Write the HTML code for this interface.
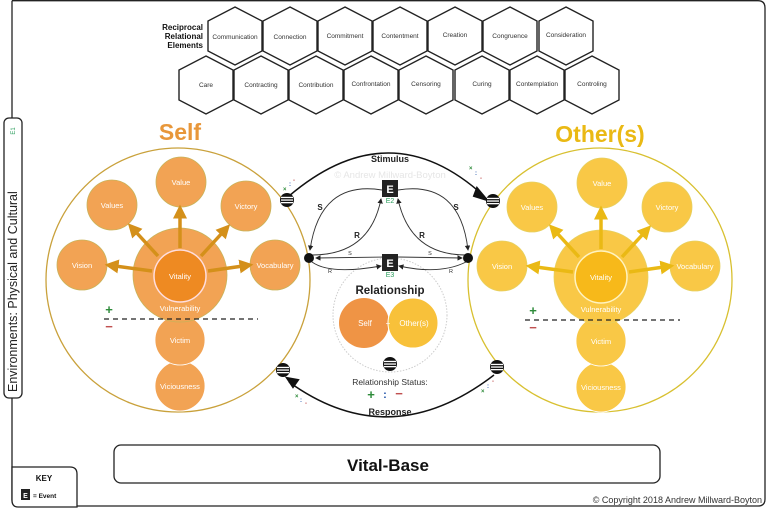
<!DOCTYPE html>
<html><head><meta charset="utf-8"><style>
html,body{margin:0;padding:0;background:#fff}
svg{display:block;font-family:"Liberation Sans",sans-serif}
</style></head><body>
<svg width="768" height="509" viewBox="0 0 768 509" xmlns="http://www.w3.org/2000/svg">
<defs>
<marker id="ah" markerWidth="6" markerHeight="6" refX="5" refY="3" orient="auto"><path d="M0,0 L6,3 L0,6 z" fill="#222"/></marker>
<marker id="ga" markerWidth="4" markerHeight="4" refX="1" refY="2" orient="auto"><path d="M0,0 L4,2 L0,4 z" fill="#d4901a"/></marker>
<marker id="ya" markerWidth="4" markerHeight="4" refX="1" refY="2" orient="auto"><path d="M0,0 L4,2 L0,4 z" fill="#eab914"/></marker>
<g id="badge"><circle r="7" fill="#111"/><rect x="-6" y="-3.2" width="12" height="1.3" fill="#fff"/><rect x="-6" y="-0.6" width="12" height="1.3" fill="#fff"/><rect x="-6" y="2" width="12" height="1.3" fill="#fff"/></g>
</defs>
<!-- frame -->
<g fill="none" stroke="#222" stroke-width="1.3">
<path d="M12,0.7 L758,0.7 Q765,0.7 765,8 L765,499 Q765,506 758,506 L18,506 Q12,506 12,500 L12,398"/>
<path d="M12,0.7 L12,118"/>
</g>
<!-- environments -->
<rect x="4" y="118" width="18" height="280" rx="5" fill="#fff" stroke="#222" stroke-width="1.3"/>
<text transform="translate(17,392) rotate(-90)" font-size="12.5" fill="#222">Environments: Physical and Cultural</text>
<text transform="translate(15,131) rotate(-90)" font-size="6" fill="#2a9d5c" text-anchor="middle">E1</text>
<g font-weight="bold" font-size="8" fill="#111" text-anchor="end">
<text x="203" y="30">Reciprocal</text>
<text x="203" y="39">Relational</text>
<text x="203" y="48">Elements</text>
</g>
<g fill="#fff" stroke="#222" stroke-width="1.4">
<polygon points="235,7 262,21 262,51 235,65 208,51 208,21"/>
<polygon points="290,7 317,21 317,51 290,65 263,51 263,21"/>
<polygon points="345,7 372,21 372,51 345,65 318,51 318,21"/>
<polygon points="400,7 427,21 427,51 400,65 373,51 373,21"/>
<polygon points="455,7 482,21 482,51 455,65 428,51 428,21"/>
<polygon points="510,7 537,21 537,51 510,65 483,51 483,21"/>
<polygon points="566,7 593,21 593,51 566,65 539,51 539,21"/>
<polygon points="206,56 233,70 233,100 206,114 179,100 179,70"/>
<polygon points="261,56 288,70 288,100 261,114 234,100 234,70"/>
<polygon points="316,56 343,70 343,100 316,114 289,100 289,70"/>
<polygon points="371,56 398,70 398,100 371,114 344,100 344,70"/>
<polygon points="426,56 453,70 453,100 426,114 399,100 399,70"/>
<polygon points="482,56 509,70 509,100 482,114 455,100 455,70"/>
<polygon points="537,56 564,70 564,100 537,114 510,100 510,70"/>
<polygon points="592,56 619,70 619,100 592,114 565,100 565,70"/>
</g>
<g font-size="6.5" fill="#333" text-anchor="middle">
<text x="235" y="39">Communication</text><text x="290" y="39">Connection</text><text x="345" y="38">Commitment</text><text x="400" y="38">Contentment</text><text x="455" y="37">Creation</text><text x="510" y="38">Congruence</text><text x="566" y="37">Consideration</text>
<text x="206" y="87">Care</text><text x="261" y="87">Contracting</text><text x="316" y="87">Contribution</text><text x="371" y="86">Confrontation</text><text x="426" y="86">Censoring</text><text x="482" y="86">Curing</text><text x="537" y="86">Contemplation</text><text x="592" y="86">Controling</text>
</g>
<!-- SELF -->
<text x="180" y="140" font-size="23" font-weight="bold" fill="#e8973a" text-anchor="middle">Self</text>
<circle cx="178" cy="280" r="132" fill="#fff" stroke="#c9a13b" stroke-width="1.3"/>
<g fill="#f2a354" stroke="#c8b35a" stroke-width="0.8">
<circle cx="181" cy="182" r="25"/><circle cx="112" cy="205" r="25"/><circle cx="246" cy="206" r="25"/>
<circle cx="82" cy="265" r="25"/><circle cx="275" cy="265" r="25"/>
<circle cx="180" cy="386" r="25" stroke="#fff"/><circle cx="180" cy="340" r="25" stroke="#fff"/>
<circle cx="180" cy="275" r="47"/>
</g>
<circle cx="180" cy="276" r="26" fill="#ee8a22" stroke="#fdd" stroke-width="1.5"/>
<g stroke="#d4901a" stroke-width="3.5" marker-end="url(#ga)">
<line x1="180" y1="248" x2="180" y2="215"/><line x1="158" y1="256" x2="135" y2="231"/><line x1="201" y1="256" x2="223" y2="232"/>
<line x1="152" y1="271" x2="115" y2="266"/><line x1="208" y1="271" x2="243" y2="266"/>
</g>
<g font-size="7.5" fill="#fff" text-anchor="middle">
<text x="181" y="185">Value</text><text x="112" y="208">Values</text><text x="246" y="209">Victory</text><text x="82" y="268">Vision</text><text x="275" y="268">Vocabulary</text>
<text x="180" y="279">Vitality</text><text x="180" y="311">Vulnerability</text><text x="180" y="343">Victim</text><text x="180" y="389">Viciousness</text>
</g>
<line x1="104" y1="319" x2="258" y2="319" stroke="#222" stroke-width="1.2" stroke-dasharray="5,4"/>
<text x="109" y="314" font-size="13" font-weight="bold" fill="#2e8b3a" text-anchor="middle">+</text>
<text x="109" y="331" font-size="13" font-weight="bold" fill="#c05050" text-anchor="middle">−</text>
<!-- OTHER -->
<text x="600" y="142" font-size="23" font-weight="bold" fill="#eab914" text-anchor="middle">Other(s)</text>
<circle cx="600" cy="280" r="132" fill="#fff" stroke="#d8c030" stroke-width="1.3"/>
<g fill="#f9c846" stroke="#e6d060" stroke-width="0.8">
<circle cx="602" cy="183" r="25"/><circle cx="532" cy="207" r="25"/><circle cx="667" cy="207" r="25"/>
<circle cx="502" cy="266" r="25"/><circle cx="695" cy="266" r="25"/>
<circle cx="601" cy="387" r="25" stroke="#fff"/><circle cx="601" cy="341" r="25" stroke="#fff"/>
<circle cx="601" cy="277" r="47"/>
</g>
<circle cx="601" cy="277" r="26" fill="#f7b91a" stroke="#fff3c0" stroke-width="1.5"/>
<g stroke="#eab914" stroke-width="3.5" marker-end="url(#ya)">
<line x1="601" y1="249" x2="601" y2="216"/><line x1="579" y1="257" x2="556" y2="232"/><line x1="622" y1="257" x2="644" y2="233"/>
<line x1="573" y1="272" x2="536" y2="267"/><line x1="629" y1="272" x2="664" y2="267"/>
</g>
<g font-size="7.5" fill="#fff" text-anchor="middle">
<text x="602" y="186">Value</text><text x="532" y="210">Values</text><text x="667" y="210">Victory</text><text x="502" y="269">Vision</text><text x="695" y="269">Vocabulary</text>
<text x="601" y="280">Vitality</text><text x="601" y="312">Vulnerability</text><text x="601" y="344">Victim</text><text x="601" y="390">Viciousness</text>
</g>
<line x1="525" y1="320" x2="680" y2="320" stroke="#222" stroke-width="1.2" stroke-dasharray="5,4"/>
<text x="533" y="315" font-size="13" font-weight="bold" fill="#2e8b3a" text-anchor="middle">+</text>
<text x="533" y="332" font-size="13" font-weight="bold" fill="#c05050" text-anchor="middle">−</text>
<!-- centre -->
<circle cx="390" cy="315" r="57" fill="none" stroke="#ccc" stroke-width="1" stroke-dasharray="1.5,1.5"/>
<path d="M289,196 Q390,110 484,196" fill="none" stroke="#111" stroke-width="1.5"/>
<path d="M477,188 L487,200 L474,196 Z" fill="#111" stroke="#111" stroke-width="2"/>
<text x="390" y="162" font-size="9" font-weight="bold" fill="#222" text-anchor="middle">Stimulus</text>
<text x="390" y="178" font-size="9.5" fill="#e6e6e6" text-anchor="middle">© Andrew Millward-Boyton</text>
<path d="M289,382 Q390,455 494,375" fill="none" stroke="#111" stroke-width="1.5"/>
<path d="M287,378 L298,380 L293,387 Z" fill="#111" stroke="#111" stroke-width="2"/>
<text x="390" y="415" font-size="9" font-weight="bold" fill="#222" text-anchor="middle">Response</text>
<g fill="none" stroke="#333" stroke-width="0.9" marker-end="url(#ah)">
<path d="M382,190 Q320,180 310,250"/><path d="M312,255 Q370,255 381,199"/>
<path d="M398,190 Q460,180 468,250"/><path d="M466,255 Q410,255 398,199"/>
<path d="M383,257 L316,258"/><path d="M312,262 Q330,275 381,266"/>
<path d="M398,257 L462,258"/><path d="M466,262 Q440,275 399,266"/>
</g>
<g font-size="8" font-weight="bold" fill="#222" text-anchor="middle">
<text x="320" y="210">S</text><text x="456" y="210">S</text><text x="357" y="238">R</text><text x="422" y="238">R</text>
</g>
<g font-size="5.5" fill="#333" text-anchor="middle"><text x="350" y="255">S</text><text x="430" y="255">S</text><text x="330" y="273">R</text><text x="451" y="273">R</text></g>
<circle cx="309" cy="258" r="5" fill="#111"/><circle cx="468" cy="258" r="5" fill="#111"/>
<rect x="382" y="180" width="16" height="17" fill="#222"/><text x="390" y="193" font-size="11" font-weight="bold" fill="#fff" text-anchor="middle">E</text>
<text x="390" y="203" font-size="7" fill="#2a9d5c" text-anchor="middle">E2</text>
<rect x="382" y="254" width="16" height="17" fill="#222"/><text x="390" y="267" font-size="11" font-weight="bold" fill="#fff" text-anchor="middle">E</text>
<text x="390" y="277" font-size="7" fill="#2a9d5c" text-anchor="middle">E3</text>
<text x="390" y="294" font-size="11.5" font-weight="bold" fill="#222" text-anchor="middle">Relationship</text>
<circle cx="364" cy="323" r="25" fill="#ef9445"/>
<circle cx="413" cy="323" r="25" fill="#f8c13a" stroke="#fff" stroke-width="1"/>
<text x="365" y="326" font-size="8" fill="#fff" text-anchor="middle">Self</text>
<text x="388" y="326" font-size="8" fill="#fff" text-anchor="middle">+</text>
<text x="414" y="326" font-size="8" fill="#fff" text-anchor="middle">Other(s)</text>
<text x="390" y="385" font-size="8.5" fill="#333" text-anchor="middle">Relationship Status:</text>
<text x="371" y="399" font-size="13" font-weight="bold" fill="#2e8b3a" text-anchor="middle">+</text>
<text x="385" y="398" font-size="11" font-weight="bold" fill="#2255aa" text-anchor="middle">:</text>
<text x="399" y="398" font-size="13" font-weight="bold" fill="#c05050" text-anchor="middle">−</text>
<g font-size="6" font-weight="bold">
<text x="283" y="191" fill="#2e8b3a">×</text><text x="289" y="186" fill="#2255aa">:</text><text x="293" y="182" fill="#c05050">-</text>
<text x="469" y="170" fill="#2e8b3a">×</text><text x="475" y="175" fill="#2255aa">:</text><text x="480" y="180" fill="#c05050">-</text>
<text x="295" y="398" fill="#2e8b3a">×</text><text x="300" y="402" fill="#2255aa">:</text><text x="305" y="405" fill="#c05050">-</text>
<text x="481" y="393" fill="#2e8b3a">×</text><text x="487" y="388" fill="#2255aa">:</text><text x="492" y="383" fill="#c05050">-</text>
</g>
<use href="#badge" x="287" y="200"/><use href="#badge" x="493" y="201"/>
<use href="#badge" x="283" y="370"/><use href="#badge" x="497" y="367"/><use href="#badge" x="390" y="364"/>
<!-- bottom -->
<rect x="114" y="445" width="546" height="38" rx="7" fill="#fff" stroke="#222" stroke-width="1.3"/>
<text x="388" y="471" font-size="17" font-weight="bold" fill="#111" text-anchor="middle">Vital-Base</text>
<path d="M12,467 L70,467 Q77,467 77,474 L77,507 L18,507 Q12,507 12,500 Z" fill="#fff" stroke="#222" stroke-width="1.3"/>
<text x="44" y="481" font-size="8" font-weight="bold" fill="#111" text-anchor="middle">KEY</text>
<rect x="21" y="489" width="9" height="11" fill="#222"/><text x="25.5" y="498" font-size="7" font-weight="bold" fill="#fff" text-anchor="middle">E</text>
<text x="33" y="498" font-size="6.5" font-weight="bold" fill="#111">= Event</text>
<text x="762" y="503" font-size="9" fill="#333" text-anchor="end">© Copyright 2018 Andrew Millward-Boyton</text>
</svg>
</body></html>
